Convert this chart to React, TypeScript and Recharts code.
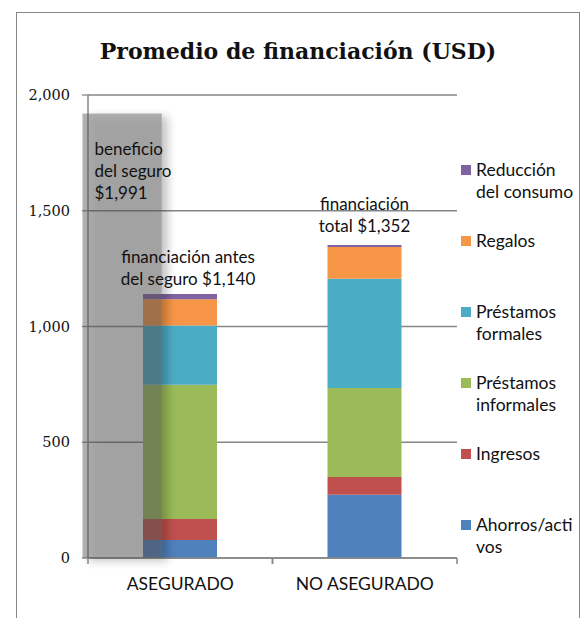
import React from "react";
import {
  BarChart, Bar, XAxis, YAxis, CartesianGrid, Legend, LabelList, ReferenceArea
} from "recharts";

const categories = ["ASEGURADO", "NO ASEGURADO"];
const ahorros = [78, 273];
const ingresos = [90, 77];
const informales = [580, 384];
const formales = [256, 472];
const regalos = [114, 137];
const reduccion = [22, 9];
const totalLabels = [
  ["financiación antes", "del seguro $1,140"],
  ["financiación", "total $1,352"],
];
const beneficioTop = 1920;
const beneficioLabel = ["beneficio", "del seguro", "$1,991"];
const yTicks = [0, 500, 1000, 1500, 2000];

const series = [
  { key: "ahorros", name: "Ahorros/activos", lines: ["Ahorros/acti", "vos"], color: "#4F81BD", values: ahorros },
  { key: "ingresos", name: "Ingresos", lines: ["Ingresos"], color: "#C0504D", values: ingresos },
  { key: "informales", name: "Préstamos informales", lines: ["Préstamos", "informales"], color: "#9BBB59", values: informales },
  { key: "formales", name: "Préstamos formales", lines: ["Préstamos", "formales"], color: "#4BACC6", values: formales },
  { key: "regalos", name: "Regalos", lines: ["Regalos"], color: "#F79646", values: regalos },
  { key: "reduccion", name: "Reducción del consumo", lines: ["Reducción", "del consumo"], color: "#8064A2", values: reduccion },
];

const data = categories.map((c, i) => {
  const row: any = { cat: c };
  series.forEach(s => { row[s.key] = s.values[i]; });
  return row;
});

const SANS = "Lato, 'Open Sans', sans-serif";
const SERIF = "'DejaVu Serif', serif";
const GRAY = "#868686";

function XTick(props: any) {
  const { x, y, payload, width, visibleTicksCount } = props;
  const half = payload.offset || (width && visibleTicksCount ? width / visibleTicksCount / 2 : 0);
  const axisY = y - 18;
  return (
    <g>
      <line x1={x - half} x2={x - half} y1={axisY} y2={axisY + 6} stroke={GRAY} strokeWidth={1.5} />
      <line x1={x + half} x2={x + half} y1={axisY} y2={axisY + 6} stroke={GRAY} strokeWidth={1.5} />
      <text x={x} y={y} dy="0.8em" textAnchor="middle" fontFamily={SANS} fontSize={17.5} fill="#111">
        {payload.value}
      </text>
    </g>
  );
}

function TotalLabel(props: any) {
  const { x, y, width, index } = props;
  const lines = totalLabels[index];
  const cx = x + width / 2 + (index === 0 ? 8 : 0);
  const top = y - (index === 0 ? 36 : 40);
  return (
    <text textAnchor="middle" fontFamily={SANS} fontSize={17} fill="#111">
      {lines.map((l, i) => (
        <tspan key={i} x={cx} y={top + i * 21.5 + 5}>{l}</tspan>
      ))}
    </text>
  );
}

function ShadedArea(props: any) {
  const { x, y, width, height } = props;
  return (
    <g>
      <defs>
        <filter id="softShadow" x="-30%" y="-10%" width="160%" height="130%">
          <feGaussianBlur in="SourceAlpha" stdDeviation="4" result="blur" />
          <feOffset in="blur" dx="6" dy="3" result="off" />
          <feComposite in="off" in2="SourceAlpha" operator="out" result="cut" />
          <feFlood floodColor="#000" floodOpacity="0.5" result="col" />
          <feComposite in="col" in2="cut" operator="in" result="shadow" />
          <feMerge>
            <feMergeNode in="shadow" />
            <feMergeNode in="SourceGraphic" />
          </feMerge>
        </filter>
      </defs>
      <rect x={x} y={y} width={width} height={height} fill="#555555" fillOpacity={0.45} filter="url(#softShadow)" />
      <text fontFamily={SANS} fontSize={17} fill="#111">
        {beneficioLabel.map((l, i) => (
          <tspan key={i} x={x + 12} y={y + 41 + i * 22}>{l}</tspan>
        ))}
      </text>
    </g>
  );
}

function LegendBox() {
  return (
    <div style={{ fontFamily: SANS, fontSize: 17.5, color: "#111" }}>
      {[...series].reverse().map(s => (
        <div key={s.key} style={{ display: "flex", height: 71, lineHeight: "22px" }}>
          <div style={{ width: 10, height: 10, background: s.color, marginTop: 6, marginRight: 5, flexShrink: 0 }} />
          <div style={{ whiteSpace: "nowrap" }}>
            {s.lines.map((l, i) => <div key={i}>{l}</div>)}
          </div>
        </div>
      ))}
    </div>
  );
}

export default function App() {
  return (
    <div style={{ position: "absolute", left: 0, top: 0, width: 585, height: 618, background: "#fff", overflow: "hidden" }}>
      <div style={{ position: "absolute", left: 16, top: 12, width: 564, height: 640, border: `1.5px solid ${GRAY}`, boxSizing: "border-box" }} />
      <div style={{
        position: "absolute", left: 0, top: 36, width: 596, textAlign: "center",
        fontFamily: "'DejaVu Serif', serif", fontWeight: "bold", fontSize: 22, lineHeight: "30px", color: "#111"
      }}>
        Promedio de financiación (USD)
      </div>
      <div style={{ position: "absolute", left: 0, top: 0 }}>
        <BarChart width={585} height={618} data={data} margin={{ top: 95, right: 128, bottom: 30, left: 28 }}>
          <CartesianGrid vertical={false} stroke={GRAY} strokeWidth={1.3} />
          <XAxis dataKey="cat" height={30} axisLine={{ stroke: GRAY, strokeWidth: 1.5 }} tickLine={false}
            tickSize={6} tickMargin={12} tick={<XTick />} interval={0} />
          <XAxis xAxisId="b" type="number" domain={[0, 1]} allowDataOverflow hide />
          <YAxis width={60} domain={[0, 2000]} ticks={yTicks} interval={0}
            axisLine={{ stroke: GRAY, strokeWidth: 1.5 }} tickLine={{ stroke: GRAY, strokeWidth: 1.3 }}
            tickSize={6} tickMargin={12}
            tickFormatter={(v: number) => v.toLocaleString("en-US")}
            tick={{ fontFamily: SERIF, fontSize: 14.5, fill: "#111" }} />
          {series.map((s, i) => (
            <Bar key={s.key} dataKey={s.key} name={s.name} stackId="a" fill={s.color} barSize={74} isAnimationActive={false}>
              {i === series.length - 1 && <LabelList dataKey={s.key} content={<TotalLabel />} />}
            </Bar>
          ))}
          <ReferenceArea xAxisId="b" x1={-0.015} x2={0.2} y1={0} y2={beneficioTop}
            ifOverflow="visible" shape={<ShadedArea />} zIndex={600} />
          <Legend layout="vertical" align="center" verticalAlign="middle" content={<LegendBox />}
            wrapperStyle={{ position: "absolute", left: 461, top: 159, width: 122 }} />
        </BarChart>
      </div>
    </div>
  );
}
